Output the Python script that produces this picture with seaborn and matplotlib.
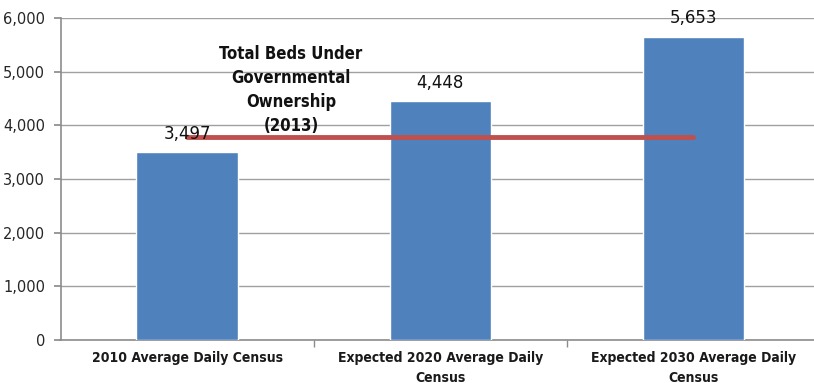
import matplotlib
matplotlib.use("Agg")
import matplotlib.pyplot as plt
import seaborn as sns
import pandas as pd
from matplotlib import font_manager
from matplotlib.ticker import FuncFormatter, FixedLocator

categories = ["2010 Average Daily Census", "Expected 2020 Average Daily\nCensus", "Expected 2030 Average Daily\nCensus"]
census = [3497, 4448, 5653]
beds_2013 = 3780
beds_label = "Total Beds Under\nGovernmental\nOwnership\n(2013)"
y_ticks = [0, 1000, 2000, 3000, 4000, 5000, 6000]

sns.set_theme(style="white")
plt.rcParams['font.family'] = ['DejaVu Sans']

names = {f.name for f in font_manager.fontManager.ttflist}
if 'Liberation Sans Narrow' in names:
    cond = dict(family=['Liberation Sans Narrow', 'DejaVu Sans'])
else:
    cond = dict(family=['DejaVu Sans'], stretch='condensed')

df = pd.DataFrame({"cat": categories, "val": census})

fig = plt.figure(figsize=(8.14, 3.83), dpi=100)
ax = fig.add_axes([60.5/814, 43/383, 759.5/814, 322/383])

sns.barplot(data=df, x="cat", y="val", color="#4F81BD", width=0.4, ax=ax, saturation=1, zorder=3)
sns.lineplot(x=categories, y=[beds_2013]*3, color="#C0504D", linewidth=3.5, ax=ax, zorder=4)

ax.set_ylim(0, 6000)
ax.set_xlim(-0.5, 2.5)
ax.yaxis.set_major_locator(FixedLocator(y_ticks))
ax.yaxis.set_major_formatter(FuncFormatter(lambda v, p: f"{int(v):,}"))
ax.grid(axis="y", color="#A0A0A0", linewidth=1, zorder=0)
ax.set_axisbelow(True)
for s in ["top", "right"]:
    ax.spines[s].set_visible(False)
for s in ["left", "bottom"]:
    ax.spines[s].set_color("#8C8C8C")
    ax.spines[s].set_linewidth(1.2)
ax.set_xlabel("")
ax.set_ylabel("")
ax.tick_params(axis="y", which="major", left=True, length=5, color="#8C8C8C", labelsize=10.5, pad=6)
ax.set_xticks(range(3))
ax.set_xticklabels(categories, fontsize=10, fontweight="bold", color="#1a1a1a", linespacing=1.5, **cond)
ax.tick_params(axis="x", length=0, pad=8)
ax.set_xticks([0.5, 1.5], minor=True)
ax.tick_params(axis="x", which="minor", bottom=True, length=5, color="#8C8C8C")

for i, v in enumerate(census):
    ax.text(i, v + 180, f"{v:,}", ha="center", va="bottom", fontsize=12,
            family=['DejaVu Sans'], color="#111111", zorder=5)

ax.text(0.41, 4660, beds_label, ha="center", va="center", fontsize=12,
        fontweight="bold", color="#111111", linespacing=1.42, zorder=5, **cond)

fig.savefig("out.png", dpi=100)
